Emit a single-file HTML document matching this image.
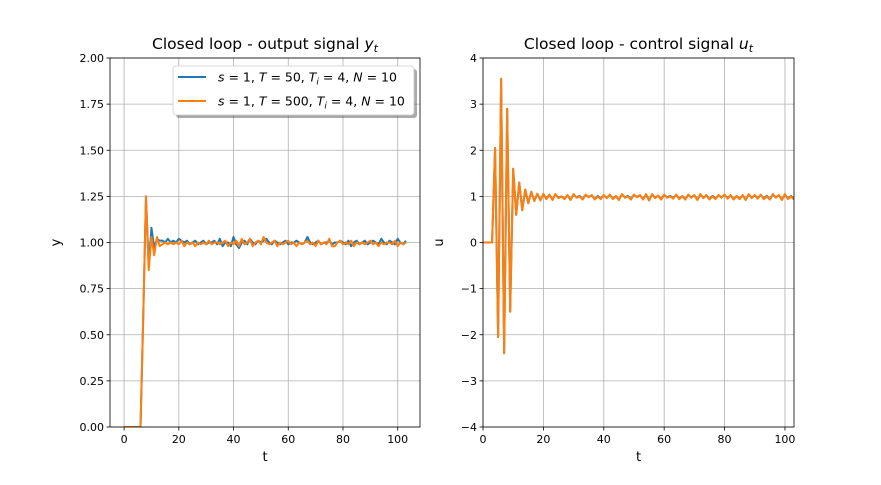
<!DOCTYPE html>
<html><head><meta charset="utf-8"><style>
body{margin:0;background:#fff;}
svg text{font-family:"DejaVu Sans","Liberation Sans",sans-serif;}
</style></head><body>
<svg id="fig" width="881" height="480" xmlns="http://www.w3.org/2000/svg">
<rect width="881" height="480" fill="#fff"/>
<g id="left"></g>
<g id="right"></g>
</svg>
<script>
const tValues = Array.from({length:104},(_, i)=>i);
const yBlue = [0,0,0,0,0,0,0,0.6,1.25,0.87,1.08,0.97,1.02,1.01,1.01,1.0,1.02,1.0,1.01,1.0,1.02,1.01,1.0,1.01,0.99,1.0,1.01,0.99,1.0,1.01,0.99,1.0,1.0,1.01,0.99,1.02,0.98,1.0,1.0,0.98,1.03,0.99,0.97,1.0,1.01,0.99,1.02,1.0,0.99,1.01,1.0,1.01,1.02,1.0,0.99,1.01,1.0,0.99,1.0,1.01,0.99,1.0,1.0,1.01,1.0,0.99,1.0,1.03,1.0,0.99,1.0,1.01,0.99,1.0,1.0,1.01,0.99,1.0,1.0,1.01,1.0,0.99,1.01,0.98,1.0,1.01,0.99,1.0,1.01,0.99,1.0,1.01,1.0,0.99,1.02,1.0,0.99,1.01,1.0,0.99,1.02,1.0,0.99,1.01];
const yOrange = [0,0,0,0,0,0,0,0.6,1.25,0.85,1.03,0.93,1.03,0.98,0.99,1.0,0.99,1.0,0.99,1.0,0.99,1.01,0.98,1.0,0.99,1.0,0.98,1.0,0.99,1.0,0.99,1.01,0.99,1.0,1.0,0.99,1.0,1.01,0.98,1.0,0.99,1.01,0.98,1.02,0.99,1.0,1.02,0.98,1.0,1.01,0.99,1.03,1.0,0.99,1.0,1.01,0.98,1.0,0.99,1.0,1.01,0.99,1.0,0.98,1.0,0.99,1.0,1.01,0.99,1.0,0.98,1.01,0.99,1.0,0.99,1.02,0.98,0.98,1.0,1.01,0.99,1.0,0.99,1.01,0.98,1.0,0.99,1.0,0.99,1.0,1.01,0.99,1.0,0.98,1.0,0.99,1.0,1.0,0.99,1.01,0.98,1.0,0.99,1.0];
const uBlue = [0,0,0,0,2.05,-2.05,3.55,-2.4,2.9,-1.5,1.6,0.6,1.3,0.7,1.15,0.85,1.1,0.9,1.05,0.92,1.05,0.95,1.03,0.93,1.04,0.97,1.0,0.95,1.02,0.93,1.04,0.98,1.01,0.94,1.03,0.99,1.02,0.94,1.01,0.95,1.02,0.97,1.03,0.95,1.0,0.93,1.04,0.98,1.01,0.94,1.03,0.99,1.02,0.94,1.03,0.92,1.04,0.97,1.01,0.94,1.03,0.98,1.01,0.96,1.03,0.95,1.0,0.94,1.03,0.98,1.02,0.93,1.04,0.97,1.02,0.94,1.01,0.95,1.02,0.98,1.03,0.96,1.02,0.94,1.0,0.95,1.02,0.93,1.04,0.97,1.02,0.96,1.03,0.95,1.01,0.94,1.04,0.98,1.02,0.93,1.04,0.95,1.01,0.94];
const uOrange = [0,0,0,0,2.05,-2.05,3.55,-2.4,2.9,-1.5,1.6,0.6,1.3,0.7,1.15,0.85,1.1,0.9,1.06,0.91,1.05,0.94,1.04,0.92,1.05,0.96,1.0,0.94,1.03,0.92,1.05,0.97,1.0,0.93,1.04,0.98,1.03,0.93,1.0,0.94,1.03,0.96,1.04,0.94,1.01,0.92,1.05,0.97,1.0,0.93,1.04,0.98,1.03,0.93,1.05,0.91,1.05,0.96,1.02,0.93,1.04,0.97,1.0,0.95,1.04,0.94,1.01,0.93,1.04,0.97,1.03,0.92,1.05,0.96,1.03,0.93,1.0,0.94,1.03,0.97,1.04,0.95,1.03,0.93,1.01,0.94,1.03,0.92,1.05,0.96,1.03,0.95,1.04,0.94,1.0,0.93,1.05,0.97,1.03,0.92,1.05,0.94,1.0,0.93];
const leftXTicks = [0,20,40,60,80,100];
const leftYTicks = ["0.00","0.25","0.50","0.75","1.00","1.25","1.50","1.75","2.00"];
const rightXTicks = [0,20,40,60,80,100];
const rightYTicks = [-4,-3,-2,-1,0,1,2,3,4];

const NS="http://www.w3.org/2000/svg";
function mk(parent,tag,attrs,text){const e=document.createElementNS(NS,tag);for(const k in attrs)e.setAttribute(k,attrs[k]);if(text!==undefined)e.textContent=text;parent.appendChild(e);return e;}

function drawAxes(g,cfg){
  const {x0,x1,y0,y1,xmin,xmax,ymin,ymax}=cfg;
  const sx=v=>x0+(v-xmin)/(xmax-xmin)*(x1-x0);
  const sy=v=>y1-(v-ymin)/(ymax-ymin)*(y1-y0);
  cfg.xTicks.forEach(v=>{const x=sx(v);
    const l=mk(g,'line',{x1:x,x2:x,y1:y0,y2:y1,stroke:'#b0b0b0','stroke-width':0.8});
    
    
    mk(g,'line',{x1:x,x2:x,y1:y1,y2:y1+3.5,stroke:'#000','stroke-width':0.8});
    const t=mk(g,'text',{x:x,y:y1+16,'font-size':11,'text-anchor':'middle'},String(v));
    
    
  });
  cfg.yTicks.forEach(s=>{const y=sy(parseFloat(s));
    const l=mk(g,'line',{x1:x0,x2:x1,y1:y,y2:y,stroke:'#b0b0b0','stroke-width':0.8});
    
    
    mk(g,'line',{x1:x0-3.5,x2:x0,y1:y,y2:y,stroke:'#000','stroke-width':0.8});
    const t=mk(g,'text',{x:x0-6,y:y+4,'font-size':11,'text-anchor':'end'},String(s).replace('-','\u2212'));
    
    
  });
  const clipId='c'+x0;
  const cp=mk(g,'clipPath',{id:clipId});mk(cp,'rect',{x:x0,y:y0,width:x1-x0,height:y1-y0});
  cfg.series.forEach(s=>{
    const d=s.vals.map((v,i)=>(i?'L':'M')+sx(tValues[i]).toFixed(2)+','+sy(v).toFixed(2)).join('');
    const p=mk(g,'path',{d:d,fill:'none',stroke:s.color,'stroke-width':2,'clip-path':'url(#'+clipId+')','stroke-linejoin':'round'});
    
    
  });
  mk(g,'rect',{x:x0,y:y0,width:x1-x0,height:y1-y0,fill:'none',stroke:'#000','stroke-width':0.8});
  const tt=mk(g,'text',{x:(x0+x1)/2,y:y0-9,'font-size':15.5,'text-anchor':'middle'});
  
  
  tt.appendChild(document.createTextNode(cfg.title+' '));
  mk(tt,'tspan',{'font-style':'italic'},cfg.sym);
  mk(tt,'tspan',{'font-style':'italic','font-size':11,dy:3},'t');
  const xl=mk(g,'text',{x:(x0+x1)/2,y:y1+34,'font-size':13,'text-anchor':'middle'},'t');
  
  
  const yl=mk(g,'text',{x:cfg.ylx,y:(y0+y1)/2,'font-size':13,'text-anchor':'middle',transform:`rotate(-90 ${cfg.ylx} ${(y0+y1)/2})`},cfg.ylab);
  
  
}

const L=document.getElementById('left');
drawAxes(L,{x0:110,x1:420,y0:58,y1:427,xmin:-5.15,xmax:108.15,ymin:0,ymax:2,xTicks:leftXTicks,yTicks:leftYTicks,
  series:[{vals:yBlue,color:'#1f77b4',name:'series-T50'},{vals:yOrange,color:'#ff7f0e',name:'series-T500'}],
  title:'Closed loop - output signal',sym:'y',ylx:60,ylab:'y'});
const R=document.getElementById('right');
drawAxes(R,{x0:483,x1:794,y0:58,y1:427,xmin:0,xmax:103,ymin:-4,ymax:4,xTicks:rightXTicks,yTicks:rightYTicks.map(String),
  series:[{vals:uBlue,color:'#1f77b4',name:'series-T50'},{vals:uOrange,color:'#ff7f0e',name:'series-T500'}],
  title:'Closed loop - control signal',sym:'u',ylx:443,ylab:'u'});

const lg=mk(L,'g',{});


mk(lg,'rect',{x:176,y:69,width:241,height:49,rx:3,fill:'#555',opacity:0.5});
mk(lg,'rect',{x:173,y:66,width:241,height:49,rx:3,fill:'#fff',stroke:'#ccc','stroke-width':0.8});
[['#1f77b4','50',77],['#ff7f0e','500',101]].forEach(([c,T,y])=>{
  const e=mk(lg,'g',{});
  
  
  mk(e,'line',{x1:178,x2:206,y1:y,y2:y,stroke:c,'stroke-width':2});
  const t=mk(e,'text',{x:218,y:y+4.5,'font-size':12.5});
  mk(t,'tspan',{'font-style':'italic'},'s');
  t.appendChild(document.createTextNode(' = 1, '));
  mk(t,'tspan',{'font-style':'italic'},'T');
  t.appendChild(document.createTextNode(' = '+T+', '));
  mk(t,'tspan',{'font-style':'italic'},'T');
  mk(t,'tspan',{'font-style':'italic','font-size':9,dy:3},'i');
  mk(t,'tspan',{dy:-3},' = 4, ');
  mk(t,'tspan',{'font-style':'italic'},'N');
  t.appendChild(document.createTextNode(' = 10'));
});
</script>
</body></html>
